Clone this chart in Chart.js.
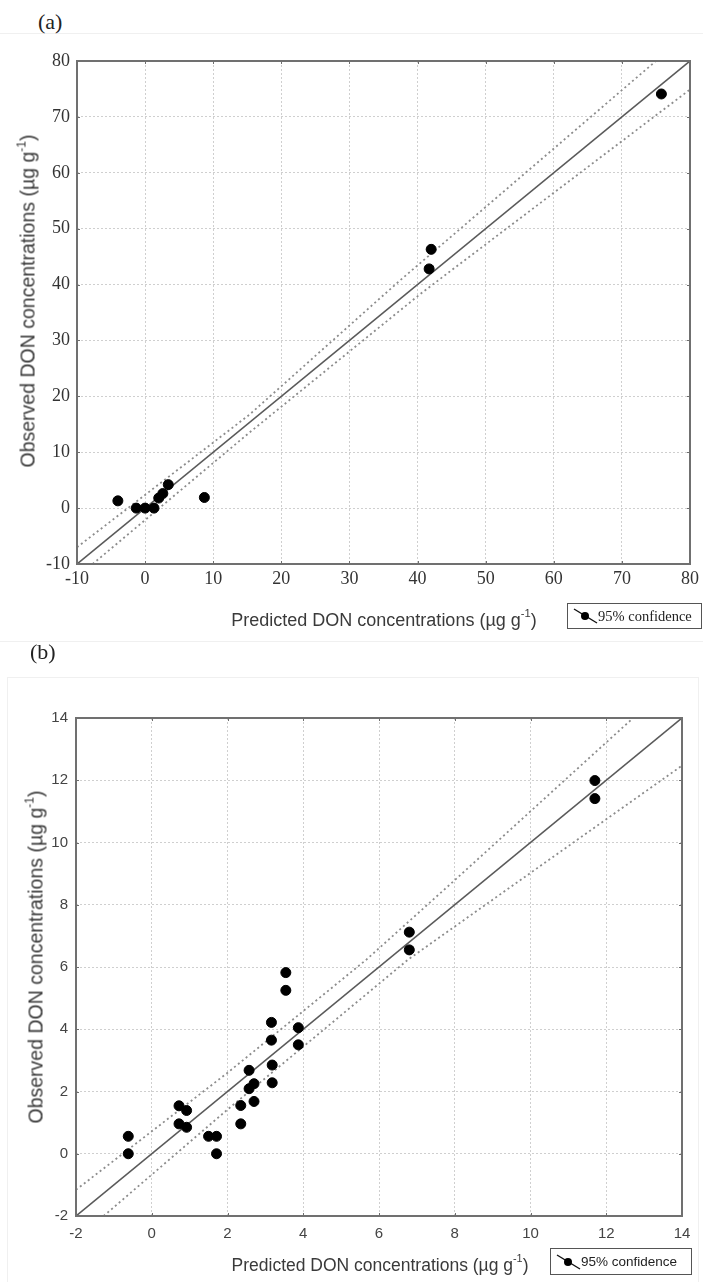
<!DOCTYPE html>
<html lang="en">
<head>
<meta charset="UTF-8">
<title>Observed vs predicted DON concentrations</title>
<script src="https://cdnjs.cloudflare.com/ajax/libs/Chart.js/4.4.1/chart.umd.min.js"></script>
<style>
    body { margin: 0; background: #fff; }
    #page { position: relative; width: 703px; height: 1282px; overflow: hidden; }
    canvas { position: absolute; left: 0; }
    .rule { position: absolute; background: #f0f0f0; }
    .tag { position: absolute; font-family: "Liberation Serif", serif; font-size: 22px; color: #222; }
    .axis-title { position: absolute; font-family: "Liberation Sans", Arial, sans-serif; color: #3a3a3a; white-space: nowrap; transform: translate(-50%, -50%); }
    .axis-title.y { transform: translate(-50%, -50%) rotate(-90deg); }
    .axis-title sup { font-size: 62%; vertical-align: 0.75em; line-height: 0; }
    .legend { position: absolute; box-sizing: border-box; border: 1px solid #555; background: #fff; display: flex; align-items: center; padding-left: 4px; color: #222; white-space: nowrap; }
</style>
</head>
<body>
<div id="page">
    <div class="rule" style="left:0;top:33px;width:703px;height:1px"></div>
    <div class="rule" style="left:0;top:641px;width:703px;height:1px"></div>
    <div class="rule" style="left:7px;top:677px;width:691px;height:1px"></div>
    <div class="rule" style="left:7px;top:677px;width:1px;height:620px"></div>
    <div class="rule" style="left:698px;top:677px;width:1px;height:620px"></div>

    <div class="tag" style="left:38px;top:9px">(a)</div>
    <canvas id="chartA" width="703" height="640" style="top:0"></canvas>
    <div class="axis-title y" style="left:28px;top:301px;font-size:19.5px">Observed DON concentrations (µg g<sup>-1</sup>)</div>
    <div class="axis-title" style="left:384px;top:620px;font-size:18px">Predicted DON concentrations (µg g<sup>-1</sup>)</div>
    <div class="legend" style="left:567px;top:603px;width:135px;height:26px;font-family:'Liberation Serif',serif;font-size:14.5px">
        <svg width="26" height="18"><line x1="2" y1="2" x2="25" y2="16" stroke="#111" stroke-width="1.4"/><circle cx="13" cy="9" r="4" fill="#000"/></svg>95% confidence
    </div>

    <div class="tag" style="left:30px;top:639px">(b)</div>
    <canvas id="chartB" width="703" height="642" style="top:640px"></canvas>
    <div class="axis-title y" style="left:36px;top:957px;font-size:19.5px">Observed DON concentrations (µg g<sup>-1</sup>)</div>
    <div class="axis-title" style="left:380px;top:1265px;font-size:17.5px">Predicted DON concentrations (µg g<sup>-1</sup>)</div>
    <div class="legend" style="left:550px;top:1248px;width:142px;height:27px;font-family:'Liberation Sans',Arial,sans-serif;font-size:13.5px">
        <svg width="26" height="18"><line x1="2" y1="2" x2="25" y2="16" stroke="#111" stroke-width="1.4"/><circle cx="13" cy="9" r="4" fill="#000"/></svg>95% confidence
    </div>
</div>

<script>
    // (a) observed vs predicted
    const aPredicted = [-4.0, -1.3, 0.0, 1.3, 2.0, 2.6, 3.4, 8.7, 41.7, 42.0, 75.8];
    const aObserved = [1.3, 0.0, 0.0, 0.0, 1.8, 2.6, 4.2, 1.9, 42.8, 46.3, 74.1];
    const aFitX = [-10, 80];
    const aFitY = [-10, 80];
    const aUpperX = [-10, 15.3, 37.2, 75.0];
    const aUpperY = [-7.0, 16.7, 40.5, 80.0];
    const aLowerX = [-7.7, 15.3, 40.6, 80.0];
    const aLowerY = [-10.0, 13.5, 38.5, 74.9];
    const aTicks = [-10, 0, 10, 20, 30, 40, 50, 60, 70, 80];

    // (b)
    const bPredicted = [-0.62, -0.62, 0.72, 0.72, 0.92, 0.92, 1.50, 1.71, 1.71, 2.35, 2.35, 2.57, 2.57, 2.70,
        2.70, 3.16, 3.16, 3.18, 3.18, 3.54, 3.54, 3.87, 3.87, 6.80, 6.80, 11.70, 11.70];
    const bObserved = [0.56, 0.00, 1.54, 0.96, 1.39, 0.85, 0.56, 0.56, 0.00, 1.55, 0.96, 2.68, 2.09, 2.25,
        1.68, 4.22, 3.65, 2.85, 2.28, 5.82, 5.25, 4.05, 3.50, 7.12, 6.55, 11.99, 11.41];
    const bFitX = [-2, 14];
    const bFitY = [-2, 14];
    const bUpperX = [-2, 2, 5.67, 8, 12.71];
    const bUpperY = [-1.16, 2.6, 6.24, 8.79, 14];
    const bLowerX = [-1.27, 2, 6.77, 14];
    const bLowerY = [-2, 1.42, 6.24, 12.47];
    const bTicks = [-2, 0, 2, 4, 6, 8, 10, 12, 14];

    function pairs(xs, ys) {
        return xs.map((x, i) => ({ x: x, y: ys[i] }));
    }

    // box round the plot plus short inward ticks
    const framePlugin = {
        id: 'frame',
        afterDraw(chart) {
            const { ctx, chartArea: a, scales } = chart;
            ctx.save();
            ctx.strokeStyle = '#6e6e6e';
            ctx.lineWidth = 1;
            scales.x.ticks.forEach(t => {
                const px = Math.round(scales.x.getPixelForValue(t.value)) + 0.5;
                ctx.beginPath();
                ctx.moveTo(px, a.top); ctx.lineTo(px, a.top + 3);
                ctx.moveTo(px, a.bottom); ctx.lineTo(px, a.bottom - 3);
                ctx.stroke();
            });
            scales.y.ticks.forEach(t => {
                const py = Math.round(scales.y.getPixelForValue(t.value)) + 0.5;
                ctx.beginPath();
                ctx.moveTo(a.left, py); ctx.lineTo(a.left + 3, py);
                ctx.moveTo(a.right, py); ctx.lineTo(a.right - 3, py);
                ctx.stroke();
            });
            ctx.lineWidth = 2;
            ctx.strokeStyle = '#707070';
            ctx.strokeRect(a.left, a.top, a.right - a.left, a.bottom - a.top);
            ctx.restore();
        }
    };

    function makeChart(id, cfg) {
        const tickFont = cfg.tickFont;
        const axis = (ticks, fit, pad) => ({
            type: 'linear',
            min: ticks[0],
            max: ticks[ticks.length - 1],
            afterBuildTicks: s => { s.ticks = ticks.map(v => ({ value: v })); },
            afterFit: fit,
            grid: { color: '#cfcfcf', lineWidth: 1, drawTicks: false },
            border: { display: false, dash: [2, 2] },
            ticks: { font: tickFont, color: cfg.tickColor, padding: pad }
        });

        return new Chart(document.getElementById(id), {
            type: 'scatter',
            data: {
                datasets: [
                    { data: pairs(cfg.px, cfg.py), backgroundColor: '#000', borderColor: '#000', pointRadius: 5, order: 0 },
                    { type: 'line', data: pairs(cfg.fitX, cfg.fitY), borderColor: '#5a5a5a', borderWidth: 1.6, pointRadius: 0, order: 1 },
                    { type: 'line', data: pairs(cfg.upX, cfg.upY), borderColor: '#8c8c8c', borderWidth: 1.8, borderDash: [2, 3], pointRadius: 0, order: 2 },
                    { type: 'line', data: pairs(cfg.loX, cfg.loY), borderColor: '#8c8c8c', borderWidth: 1.8, borderDash: [2, 3], pointRadius: 0, order: 2 }
                ]
            },
            options: {
                responsive: false,
                devicePixelRatio: 1,
                animation: false,
                layout: { padding: cfg.padding },
                plugins: { legend: { display: false }, tooltip: { enabled: false } },
                scales: {
                    x: axis(cfg.ticks, s => { s.height = cfg.xHeight; }, cfg.xPad),
                    y: axis(cfg.ticks, s => { s.width = cfg.yWidth; }, cfg.yPad)
                }
            },
            plugins: [framePlugin]
        });
    }

    makeChart('chartA', {
        px: aPredicted, py: aObserved,
        fitX: aFitX, fitY: aFitY,
        upX: aUpperX, upY: aUpperY,
        loX: aLowerX, loY: aLowerY,
        ticks: aTicks,
        tickFont: { family: "'Liberation Serif', serif", size: 18 },
        tickColor: '#333',
        padding: { left: 0, top: 61, right: 11, bottom: 0 },
        xHeight: 76, yWidth: 77, xPad: 4, yPad: 7
    });

    makeChart('chartB', {
        px: bPredicted, py: bObserved,
        fitX: bFitX, fitY: bFitY,
        upX: bUpperX, upY: bUpperY,
        loX: bLowerX, loY: bLowerY,
        ticks: bTicks,
        tickFont: { family: "'Liberation Sans', Arial, sans-serif", size: 15 },
        tickColor: '#444',
        padding: { left: 0, top: 78, right: 21, bottom: 0 },
        xHeight: 66, yWidth: 76, xPad: 9, yPad: 8
    });
</script>
</body>
</html>
